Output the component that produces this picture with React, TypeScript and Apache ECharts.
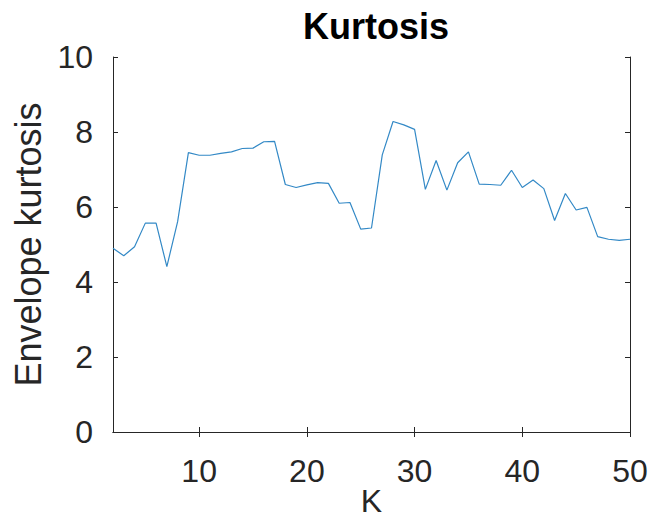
import { useEffect, useRef } from "react";
import * as echarts from "echarts";

// Number of clusters K and the envelope kurtosis measured for each
const kValues = [
  2, 3, 4, 5, 6, 7, 8, 9, 10, 11, 12, 13, 14, 15, 16, 17, 18, 19, 20, 21, 22, 23, 24, 25, 26,
  27, 28, 29, 30, 31, 32, 33, 34, 35, 36, 37, 38, 39, 40, 41, 42, 43, 44, 45, 46, 47, 48, 49, 50,
];
const kurtosis = [
  4.9, 4.7, 4.94, 5.57, 5.57, 4.41, 5.61, 7.45, 7.38, 7.38, 7.43, 7.47, 7.56, 7.57, 7.74, 7.75,
  6.6, 6.52, 6.59, 6.65, 6.63, 6.1, 6.12, 5.41, 5.44, 7.39, 8.28, 8.19, 8.07, 6.47, 7.24, 6.45,
  7.18, 7.47, 6.61, 6.6, 6.58, 6.98, 6.52, 6.72, 6.49, 5.64, 6.36, 5.92, 5.99, 5.21, 5.14, 5.11,
  5.14,
];
const xTicks = [10, 20, 30, 40, 50];

const FONT = "Liberation Sans";
const AXIS_COLOR = "#262626";

export default function App() {
  const ref = useRef<HTMLDivElement>(null);

  useEffect(() => {
    const chart = echarts.init(ref.current!, null, { renderer: "svg" });
    const axisLine = { show: true, lineStyle: { color: AXIS_COLOR, width: 1 } };
    chart.setOption({
      animation: false,
      backgroundColor: "#ffffff",
      title: {
        text: "Kurtosis",
        left: 371,
        top: 3,
        textAlign: "center",
        textStyle: { fontFamily: FONT, fontSize: 36, fontWeight: "bold", color: "#000000" },
      },
      grid: { left: 113, right: 19, top: 57, bottom: 89, outerBoundsMode: "none", containLabel: false },
      xAxis: [
        {
          type: "value",
          min: 2,
          max: 50,
          position: "bottom",
          name: "K",
          nameLocation: "middle",
          nameGap: 53,
          nameMoveOverlap: false,
          nameTextStyle: { fontFamily: FONT, fontSize: 32, color: AXIS_COLOR },
          axisLine,
          axisTick: { show: true, inside: true, length: 5, customValues: xTicks, lineStyle: { color: AXIS_COLOR } },
          axisLabel: {
            customValues: xTicks,
            margin: 23,
            fontFamily: FONT,
            fontSize: 32,
            color: AXIS_COLOR,
          },
          splitLine: { show: false },
        },
        {
          type: "value",
          min: 2,
          max: 50,
          position: "top",
          axisLine,
          axisTick: { show: true, inside: true, length: 5, customValues: xTicks, lineStyle: { color: AXIS_COLOR } },
          axisLabel: { show: false },
          splitLine: { show: false },
        },
      ],
      yAxis: [
        {
          type: "value",
          min: 0,
          max: 10,
          interval: 2,
          position: "left",
          name: "Envelope kurtosis",
          nameLocation: "middle",
          nameGap: 66,
          nameTextStyle: { fontFamily: FONT, fontSize: 36, color: AXIS_COLOR },
          axisLine,
          axisTick: { show: true, inside: true, length: 5, lineStyle: { color: AXIS_COLOR } },
          axisLabel: { margin: 20, fontFamily: FONT, fontSize: 32, color: AXIS_COLOR },
          splitLine: { show: false },
        },
        {
          type: "value",
          min: 0,
          max: 10,
          interval: 2,
          position: "right",
          axisLine,
          axisTick: { show: true, inside: true, length: 5, lineStyle: { color: AXIS_COLOR } },
          axisLabel: { show: false },
          splitLine: { show: false },
        },
      ],
      series: [
        {
          type: "line",
          xAxisIndex: 0,
          yAxisIndex: 0,
          data: kValues.map((k, i) => [k, kurtosis[i]]),
          showSymbol: false,
          lineStyle: { color: "#3389c6", width: 1.2 },
        },
      ],
    });
    return () => chart.dispose();
  }, []);

  return (
    <div
      ref={ref}
      style={{ position: "fixed", left: 0, top: 0, width: 649, height: 521 }}
    />
  );
}
